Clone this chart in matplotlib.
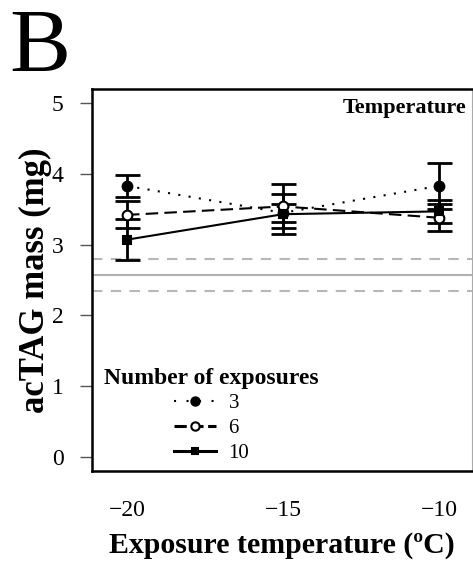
import numpy as np
import matplotlib.pyplot as plt
from matplotlib.lines import Line2D

plt.rcParams["font.family"] = ["Liberation Serif", "DejaVu Serif"]

temps = [-20, -15, -10]
mean_3 = [3.83, 3.45, 3.83]
err_3 = [0.15, 0.13, 0.33]
mean_6 = [3.42, 3.54, 3.38]
err_6 = [0.19, 0.31, 0.19]
mean_10 = [3.07, 3.43, 3.47]
err_10 = [0.29, 0.28, 0.16]
ref_mean = 2.57
ref_band = [2.35, 2.79]

fig = plt.figure(figsize=(4.73, 5.76), dpi=100)
ax = fig.add_axes([0.1945, 0.1823, 0.8035, 0.6632])

ax.axhline(ref_mean, color="#b0b0b0", lw=1.5, zorder=1)
for v in ref_band:
    ax.axhline(v, color="#b8b8b0", lw=1.5, ls=(0, (5, 4)), zorder=1)

series = [
    (mean_3, err_3, "o", "black", (0, (1, 4)), "3"),
    (mean_6, err_6, "o", "white", (0, (6, 3)), "6"),
    (mean_10, err_10, "s", "black", "-", "10"),
]
handles = []
for m, e, mk, fc, ls, lab in series:
    ax.plot(temps, m, color="black", lw=1.5, ls=ls, zorder=2)
    ax.errorbar(temps, m, yerr=e, fmt="none", ecolor="black", elinewidth=2,
                capsize=9, capthick=2, zorder=3)
    ax.plot(temps, m, ls="none", marker=mk, ms=7 if mk == "o" else 6,
            mfc=fc, mec="black", mew=1.5, zorder=4)
    handles.append(Line2D([], [], color="black", lw=1.5 if lab == "3" else 2.2,
                          ls=(0, (1, 5)) if lab == "3" else (0, (4, 1.5)) if lab == "6" else "-",
                          marker=mk, ms=6 if mk == "o" else 5, mfc=fc,
                          mec="black", mew=1.5, label=lab))

ax.set_xlim(-21.12, -8.94)
ax.set_ylim(-0.2, 5.2)
ax.set_xticks(temps)
ax.set_xticklabels(["\u221220", "\u221215", "\u221210"])
ax.set_yticks([0, 1, 2, 3, 4, 5])
ax.tick_params(axis="x", length=0, labelsize=17, pad=21)
ax.tick_params(axis="y", length=8.5, width=1, color="#555555", labelsize=17, pad=12)
for s in ax.spines.values():
    s.set_linewidth(1.8)
ax.spines["right"].set_linewidth(0.8)
ax.spines["right"].set_color("#aaaaaa")

ax.set_xlabel("Exposure temperature (\u00baC)", fontsize=21.5, fontweight="bold", labelpad=8)
ax.set_ylabel("acTAG mass (mg)", fontsize=25, fontweight="bold", labelpad=0)

ax.text(0.985, 0.976, "Temperature", transform=ax.transAxes, ha="right", va="top",
        fontsize=16, fontweight="bold")

leg = ax.legend(handles=handles, loc="lower left", bbox_to_anchor=(0.0, -0.012),
                frameon=False, fontsize=15, title="Number of exposures",
                title_fontproperties={"size": 17, "weight": "bold"},
                handlelength=2.0, handletextpad=0.6, labelspacing=0.25,
                borderaxespad=0.2)

fig.text(0.02, 0.985, "B", fontsize=66, ha="left", va="top")

fig.savefig("out.png", dpi=100)
